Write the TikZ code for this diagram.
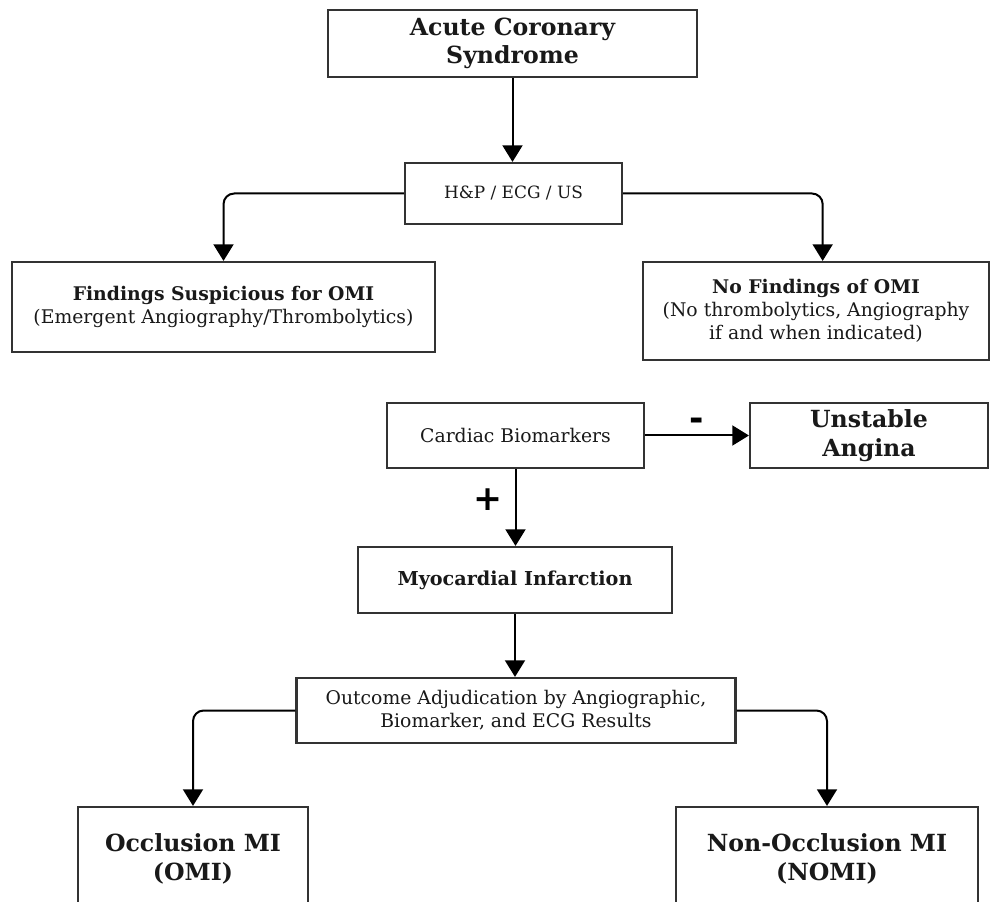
\documentclass[tikz,border=0pt]{standalone}
\usepackage{fontspec}
\setmainfont{DejaVu Serif}
\newfontfamily\signfont{DejaVu Sans}
\usetikzlibrary{arrows.meta}

\begin{document}
\begin{tikzpicture}
      [x = 0.75pt, y = -0.75pt,
      box/.style= {
         draw = black!80,
         line width = 1.6pt,
         fill = white,
         text = black!90,
         align = center,
         inner sep = 0pt
      },
      boxsize/.style 2 args= {
         minimum width = #1*0.75pt,
         minimum height = #2*0.75pt
      },
      conn/.style= {
         line width = 1.5pt,
         -{Triangle[width = 15pt, length = 12.5pt]}
      },
      bigbold/.style= {font = \fontsize{17.7}{21.5}\selectfont\bfseries},
      midbold/.style= {font = \fontsize{14.4}{17}\selectfont\bfseries},
      plain/.style= {font = \fontsize{14.1}{17.2}\selectfont},
      small/.style= {font = \fontsize{12.7}{15}\selectfont},
      sign/.style= {font = \signfont\fontsize{26}{26}\selectfont\bfseries}
      ]

      \useasboundingbox (0, 0) rectangle (990, 902);
      \clip (0, 0) rectangle (990, 902);

      \node[box, bigbold, boxsize = {369}{67}] (acs) at (512.5, 43.5) {Acute Coronary\\Syndrome};
      \node[box, small, boxsize = {217}{61}] (hp) at (513.5, 193.5) {H\&P / ECG / US};
      \node[box, plain, boxsize = {423}{90}] (susp) at (223.5, 307)
         {\textbf{Findings Suspicious for OMI}\\(Emergent Angiography/Thrombolytics)};
      \node[box, plain, boxsize = {346}{98}] (nofind) at (816, 311)
         {\textbf{No Findings of OMI}\\(No thrombolytics, Angiography\\if and when indicated)};

      \node[box, plain, boxsize = {257}{65}] (cardiac) at (515.5, 435.5) {Cardiac Biomarkers};
      \node[box, bigbold, boxsize = {238}{65}] (ua) at (869, 435.5) {Unstable\\Angina};
      \node[box, midbold, boxsize = {314}{66}] (mi) at (515, 580) {Myocardial Infarction};
      \node[box, plain, boxsize = {439}{65}] (outcome) at (516, 710.5)
         {Outcome Adjudication by Angiographic,\\Biomarker, and ECG Results};
      \node[box, bigbold, boxsize = {230}{104}] (omi) at (193, 859) {Occlusion MI\\(OMI)};
      \node[box, bigbold, boxsize = {302}{104}] (nomi) at (827, 859) {Non-Occlusion MI\\(NOMI)};

      \draw[conn] (acs.south) -- (acs.south |- hp.north);
      \draw[conn, rounded corners = 8pt] (hp.west) -| (susp.north);
      \draw[conn, rounded corners = 8pt] (hp.east) -| ([xshift = 5pt]nofind.north);

      \draw[conn] (cardiac.east) -- node[sign, above = 0pt] (minus) {-} (ua.west);
      \draw[conn] (cardiac.south) -- node[sign, left = 6pt, pos = 0.4] (plus) {+} (cardiac.south |- mi.north);
      \draw[conn] (mi.south) -- (mi.south |- outcome.north);

      \draw[conn, rounded corners = 8pt] (outcome.west) -| (omi.north);
      \draw[conn, rounded corners = 8pt] (outcome.east) -| (nomi.north);

   \end{tikzpicture}
\end{document}
